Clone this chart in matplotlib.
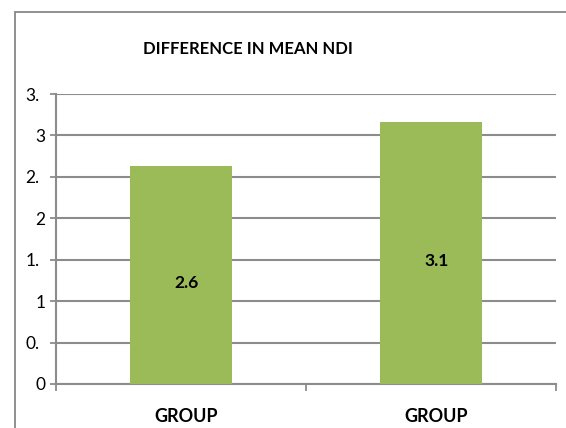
import matplotlib
matplotlib.use("Agg")
import matplotlib.pyplot as plt
import matplotlib.transforms as mtransforms
from matplotlib.patches import Rectangle

# Data
categories = ["GROUP", "GROUP"]
values = [2.63, 3.16]
value_labels = ["2.6", "3.1"]
yticks = [0, 0.5, 1, 1.5, 2, 2.5, 3, 3.5]
ytick_labels = ["0", "0.", "1", "1.", "2", "2.", "3", "3."]
title = "DIFFERENCE IN MEAN NDI"

plt.rcParams['font.family'] = ['Lato', 'DejaVu Sans']

W, H = 566, 428
fig = plt.figure(figsize=(W / 100, H / 100), dpi=100)

# outer chart frame (cropped on right/bottom)
fig.patches.append(Rectangle((14.5 / W, -0.1), 1.2, 1 - 11.5 / H + 0.1,
                             transform=fig.transFigure, fill=False,
                             edgecolor='#878787', linewidth=1.3))

ax = fig.add_axes([56 / W, 1 - 384 / H, (556 - 56) / W, (384 - 94) / H])
grid_c = '#8c8c8c'
x = list(range(len(categories)))
ax.bar(x, values, width=0.405, color='#9BBB59', zorder=3)
ax.set_xlim(-0.5, 1.5)
ax.set_ylim(0, 3.5)

ax.set_yticks(yticks)
ax.set_yticklabels(ytick_labels, fontsize=12.5)
ax.yaxis.grid(True, color=grid_c, linewidth=1.5, zorder=0)
ax.set_axisbelow(True)
ax.tick_params(axis='y', length=4, width=1.3, color=grid_c, pad=3.6)

# category boundary ticks on x axis
ax.set_xticks([-0.5, 0.5, 1.5])
ax.set_xticklabels([])
ax.tick_params(axis='x', length=5, width=1.3, color=grid_c, direction='out')
for i, c in enumerate(categories):
    ax.annotate(c, xy=(x[i], 0), xycoords=('data', 'axes fraction'),
                xytext=(4, -23.5), textcoords='offset points',
                ha='center', va='center', fontsize=13, fontweight='bold')

for s in ['top', 'right']:
    ax.spines[s].set_visible(False)
for s in ['left', 'bottom']:
    ax.spines[s].set_color(grid_c)
    ax.spines[s].set_linewidth(1.5)

for i, v in enumerate(values):
    ax.annotate(value_labels[i], xy=(x[i], v / 2), xytext=(4, -6),
                textcoords='offset points', ha='center', va='center',
                fontsize=12.5, fontweight='bold', zorder=4)

fig.text(248 / W, 1 - 49 / H, title, ha='center', va='center',
         fontsize=12, fontweight='bold')

fig.canvas.draw()
for lab, t in zip(ax.get_yticklabels(), ytick_labels):
    if t.endswith('.'):
        lab.set_transform(lab.get_transform() +
                          mtransforms.ScaledTranslation(-6 / 100, 0, fig.dpi_scale_trans))

fig.savefig('out.png', dpi=100)
